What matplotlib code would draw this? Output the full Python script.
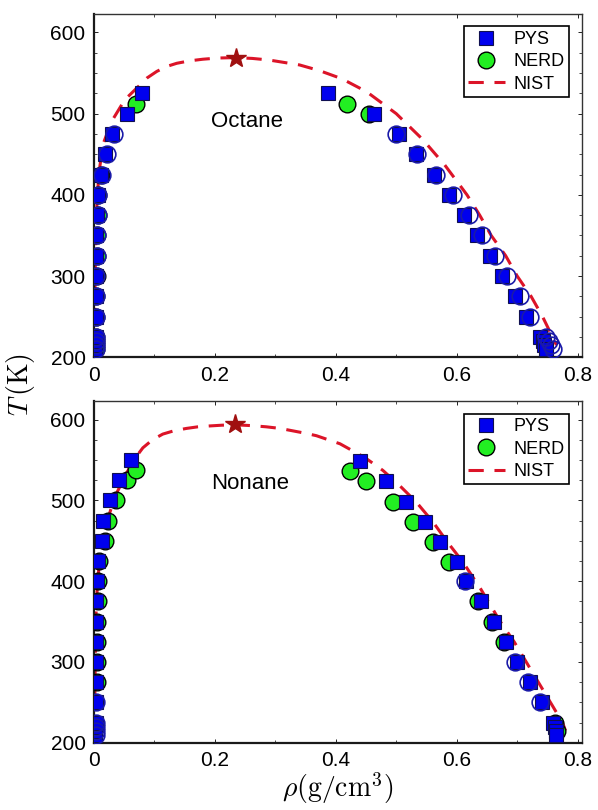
import numpy as np
import matplotlib
matplotlib.use("Agg")
from matplotlib import pyplot as plt

plt.rcParams['font.family'] = ['Liberation Sans', 'DejaVu Sans']
plt.rcParams['mathtext.fontset'] = 'cm'

# ---------------- Octane ----------------
oct_pys_T = [210, 215, 220, 225, 250, 275, 300, 325, 350, 375, 400, 425, 450, 475, 500, 525,
             525, 500, 475, 450, 425, 400, 375, 350, 325, 300, 275, 250, 225, 220, 215, 210]
oct_pys_rho = [0.002, 0.002, 0.002, 0.003, 0.003, 0.003, 0.003, 0.004, 0.004, 0.005, 0.006, 0.011, 0.018, 0.030, 0.054, 0.080,
               0.388, 0.464, 0.504, 0.533, 0.563, 0.588, 0.612, 0.634, 0.655, 0.675, 0.696, 0.714, 0.738, 0.742, 0.745, 0.748]

oct_nerd_T = [210, 215, 220, 225, 250, 275, 300, 325, 350, 375, 400, 425, 512, 512, 500]
oct_nerd_rho = [0.004, 0.004, 0.004, 0.004, 0.004, 0.004, 0.005, 0.005, 0.005, 0.006, 0.007, 0.012, 0.069, 0.418, 0.455]

oct_open_T = [210, 215, 220, 225, 250, 275, 300, 325, 350, 375, 400, 425, 450, 475,
              475, 450, 425, 400, 375, 350, 325, 300, 275, 250, 225, 220, 215, 210]
oct_open_rho = [0.004, 0.004, 0.004, 0.004, 0.004, 0.004, 0.004, 0.005, 0.005, 0.006, 0.007, 0.014, 0.021, 0.033,
                0.500, 0.534, 0.565, 0.594, 0.620, 0.642, 0.664, 0.684, 0.704, 0.722, 0.748, 0.752, 0.756, 0.760]

oct_nist_rho = [0.001, 0.002, 0.004, 0.008, 0.015, 0.029, 0.051, 0.073, 0.088, 0.104, 0.120, 0.137, 0.158,
                0.180, 0.205, 0.235, 0.262, 0.290, 0.315, 0.340, 0.373, 0.410, 0.451, 0.500, 0.544, 0.580,
                0.617, 0.638, 0.657, 0.681, 0.700, 0.723, 0.742, 0.765]
oct_nist_T = [210, 300, 375, 425, 462, 490, 517, 533, 544, 552, 558, 562, 565,
              567, 568.5, 569, 568, 566, 563, 560, 553, 543, 527, 500, 468, 437,
              400, 375, 350, 325, 300, 275, 250, 215]
oct_crit = (0.235, 569)

# ---------------- Nonane ----------------
non_pys_T = [210, 215, 220, 225, 250, 275, 300, 325, 350, 375, 400, 425, 450, 475, 500, 525, 550,
             549, 524, 498, 473, 448, 424, 400, 375, 350, 325, 300, 275, 250, 225, 220, 215, 210]
non_pys_rho = [0.002, 0.002, 0.002, 0.003, 0.003, 0.003, 0.003, 0.003, 0.004, 0.004, 0.005, 0.007, 0.013, 0.015, 0.026, 0.042, 0.062,
               0.440, 0.483, 0.517, 0.547, 0.572, 0.600, 0.616, 0.640, 0.662, 0.682, 0.700, 0.722, 0.741, 0.760, 0.762, 0.764, 0.765]

non_nerd_T = [275, 300, 325, 350, 375, 400, 425, 450, 475, 500, 525, 537,
              536, 524, 498, 473, 448, 424, 375, 350, 325, 225, 215]
non_nerd_rho = [0.005, 0.005, 0.005, 0.005, 0.006, 0.006, 0.009, 0.018, 0.024, 0.036, 0.054, 0.070,
                0.423, 0.450, 0.495, 0.528, 0.561, 0.588, 0.636, 0.658, 0.679, 0.762, 0.766]

non_open_T = [210, 215, 220, 225, 250, 400, 300, 275, 250]
non_open_rho = [0.003, 0.003, 0.003, 0.003, 0.003, 0.613, 0.697, 0.718, 0.737]

non_nist_rho = [0.001, 0.003, 0.006, 0.012, 0.020, 0.035, 0.055, 0.068, 0.081, 0.097, 0.114, 0.132, 0.153,
                0.172, 0.190, 0.212, 0.233, 0.260, 0.285, 0.308, 0.329, 0.350, 0.368, 0.407, 0.448,
                0.478, 0.506, 0.533, 0.561, 0.585, 0.610, 0.640, 0.672, 0.695, 0.715, 0.735, 0.755,
                0.775, 0.780]
non_nist_T = [215, 350, 400, 440, 470, 505, 535, 552, 565, 575, 582, 586, 589,
              591, 592, 593, 593.5, 592.5, 591, 589, 586, 583, 580, 570, 553,
              537, 518, 498, 473, 448, 424, 390, 350, 325, 300, 275, 250,
              225, 215]
non_crit = (0.233, 594)

xticks = [0, 0.2, 0.4, 0.6, 0.8]
xtick_labels = ['0', '0.2', '0.4', '0.6', '0.8']
yticks = [200, 300, 400, 500, 600]

panels = [
    ("Octane", (0.253, 490), oct_pys_rho, oct_pys_T, oct_nerd_rho, oct_nerd_T,
     oct_open_rho, oct_open_T, oct_nist_rho, oct_nist_T, oct_crit),
    ("Nonane", (0.258, 521), non_pys_rho, non_pys_T, non_nerd_rho, non_nerd_T,
     non_open_rho, non_open_T, non_nist_rho, non_nist_T, non_crit),
]

fig = plt.figure(figsize=(5.98, 8.10), dpi=100)
rects = [[0.157, 0.559, 0.816, 0.424], [0.157, 0.083, 0.816, 0.422]]

nist_col = '#dc1428'
for rect, p in zip(rects, panels):
    name, txy, prho, pT, nrho, nT, orho, oT, lrho, lT, crit = p
    ax = fig.add_axes(rect)
    ax.plot(lrho, lT, '--', color=nist_col, lw=2.2, dashes=(5, 3.5), label='NIST', zorder=2)
    ax.plot(nrho, nT, 'o', ms=12, mfc='#22ee22', mec='black', mew=1.0, label='NERD', zorder=3)
    ax.plot(prho, pT, 's', ms=9.5, mfc='#0000ee', mec='#101050', mew=0.8, label='PYS', zorder=4)
    ax.plot(orho, oT, 'o', ms=12, mfc='none', mec='#1a1aa8', mew=1.2, zorder=5)
    ax.plot(*crit, '*', ms=15, color='#a01010', zorder=6)
    ax.text(txy[0], txy[1], name, fontsize=16, ha='center', va='center')

    ax.set_xlim(0, 0.807)
    ax.set_ylim(200, 623)
    ax.set_xticks(xticks)
    ax.set_xticklabels(xtick_labels)
    ax.set_yticks(yticks)
    ax.set_xticks([0.1, 0.3, 0.5, 0.7], minor=True)
    ax.set_yticks(np.arange(225, 623, 25), minor=True)
    ax.tick_params(direction='in', top=True, right=True, labelsize=15, pad=6, length=3, width=0.6)
    ax.tick_params(which='minor', direction='in', top=True, right=True, length=2, width=0.5)
    for s in ['top', 'right']:
        ax.spines[s].set_linewidth(1.0)
        ax.spines[s].set_color('#333333')
    for s in ['left', 'bottom']:
        ax.spines[s].set_linewidth(1.6)
        ax.spines[s].set_color('#1a1a1a')

    h, l = ax.get_legend_handles_labels()
    order = [l.index('PYS'), l.index('NERD'), l.index('NIST')]
    leg = ax.legend([h[i] for i in order], [l[i] for i in order], loc='upper right',
                    fontsize=13, fancybox=False, edgecolor='black', framealpha=1,
                    borderaxespad=0.7, handlelength=2.0, handletextpad=0.5,
                    borderpad=0.25, labelspacing=0.3)
    leg.get_frame().set_linewidth(1.2)
    if name == "Nonane":
        ax.set_xlabel(r'$\rho(\mathrm{g/cm^3})$', fontsize=20, labelpad=0)

fig.text(0.035, 0.525, r'$T\,(\mathrm{K})$', fontsize=20, rotation=90, ha='center', va='center')

fig.savefig('out.png', dpi=100)
